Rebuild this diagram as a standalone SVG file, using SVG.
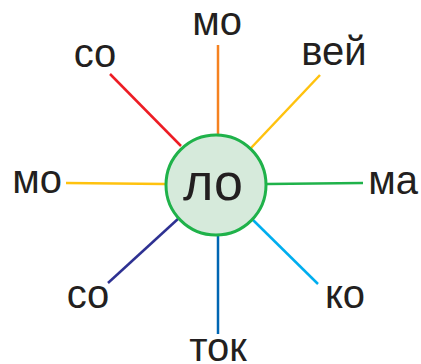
<svg xmlns="http://www.w3.org/2000/svg" width="421" height="364" viewBox="0 0 421 364">
<style>
.c{fill:none;stroke-width:2.5}
.t{font-family:"Liberation Sans",Arial,sans-serif;font-size:40px;fill:#231f20;text-anchor:middle}
</style>
<rect width="421" height="364" fill="#fff"/>
<g id="connectors">
<line class="c" x1="218" y1="45" x2="218" y2="135" stroke="#f58220"/>
<line class="c" x1="320" y1="75" x2="251" y2="148" stroke="#ffc20e"/>
<line class="c" x1="363" y1="183" x2="267" y2="184" stroke="#1fb24a"/>
<line class="c" x1="318" y1="284" x2="253" y2="220" stroke="#00aeef"/>
<line class="c" x1="218" y1="334" x2="218" y2="236" stroke="#0066b3"/>
<line class="c" x1="108" y1="283" x2="179" y2="218" stroke="#2e3192"/>
<line class="c" x1="66" y1="183" x2="165" y2="184" stroke="#ffc20e"/>
<line class="c" x1="110" y1="74" x2="181" y2="146" stroke="#ed1c24"/>
</g>
<g id="center">
<circle cx="216" cy="185" r="50" fill="#d6eadb" stroke="#1fb24a" stroke-width="3"/>
<text class="t" x="213" y="200" style="font-size:52px">ло</text>
</g>
<g id="n-top"><text class="t" x="217" y="35">мо</text></g>
<g id="n-ur"><text class="t" x="334" y="65">вей</text></g>
<g id="n-r"><text class="t" x="393" y="194">ма</text></g>
<g id="n-lr"><text class="t" x="345" y="308">ко</text></g>
<g id="n-b"><text class="t" x="218" y="361">ток</text></g>
<g id="n-ll"><text class="t" x="88" y="308">со</text></g>
<g id="n-l"><text class="t" x="37" y="193">мо</text></g>
<g id="n-ul"><text class="t" x="95" y="67">со</text></g>
</svg>
